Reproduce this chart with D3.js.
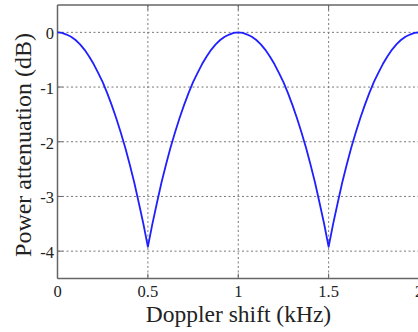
<!DOCTYPE html>
<html>
<head>
<meta charset="utf-8">
<script src="https://cdn.jsdelivr.net/npm/d3@7"></script>
<style>
  html, body { margin: 0; padding: 0; background: #fff; }
  svg { display: block; }
</style>
</head>
<body>
<svg id="chart" width="418" height="332"></svg>
<script>
// Doppler shift samples (kHz), every 0.025 kHz
const dopplerKHz = [
  0, 0.025, 0.05, 0.075, 0.1, 0.125, 0.15, 0.175, 0.2, 0.225,
  0.25, 0.275, 0.3, 0.325, 0.35, 0.375, 0.4, 0.425, 0.45, 0.475,
  0.5, 0.525, 0.55, 0.575, 0.6, 0.625, 0.65, 0.675, 0.7, 0.725,
  0.75, 0.775, 0.8, 0.825, 0.85, 0.875, 0.9, 0.925, 0.95, 0.975,
  1, 1.025, 1.05, 1.075, 1.1, 1.125, 1.15, 1.175, 1.2, 1.225,
  1.25, 1.275, 1.3, 1.325, 1.35, 1.375, 1.4, 1.425, 1.45, 1.475,
  1.5, 1.525, 1.55, 1.575, 1.6, 1.625, 1.65, 1.675, 1.7, 1.725,
  1.75, 1.775, 1.8, 1.825, 1.85, 1.875, 1.9, 1.925, 1.95, 1.975, 2];
// Power attenuation (dB)
const attenuationDB = [
  0, -0.01, -0.04, -0.08, -0.14, -0.22, -0.32, -0.44, -0.58, -0.74,
  -0.91, -1.11, -1.33, -1.57, -1.83, -2.11, -2.42, -2.75, -3.12, -3.50,
  -3.92, -3.50, -3.12, -2.75, -2.42, -2.11, -1.83, -1.57, -1.33, -1.11,
  -0.91, -0.74, -0.58, -0.44, -0.32, -0.22, -0.14, -0.08, -0.04, -0.01,
  0, -0.01, -0.04, -0.08, -0.14, -0.22, -0.32, -0.44, -0.58, -0.74,
  -0.91, -1.11, -1.33, -1.57, -1.83, -2.11, -2.42, -2.75, -3.12, -3.50,
  -3.92, -3.50, -3.12, -2.75, -2.42, -2.11, -1.83, -1.57, -1.33, -1.11,
  -0.91, -0.74, -0.58, -0.44, -0.32, -0.22, -0.14, -0.08, -0.04, -0.01, 0];
const xTicks = [0, 0.5, 1, 1.5, 2];
const xTickLabels = ["0", "0.5", "1", "1.5", "2"];
const yTicks = [0, -1, -2, -3, -4];
const yTickLabels = ["0", "-1", "-2", "-3", "-4"];

const FONT = "'Liberation Serif', 'DejaVu Serif', 'Times New Roman', serif";
const svg = d3.select("#chart");
const plotLeft = 57.5, plotRight = 419, plotTop = 5, plotBottom = 278.5;

const x = d3.scaleLinear().domain([0, 2]).range([plotLeft, plotRight]);
const y = d3.scaleLinear().domain([-4.5, 0.5]).range([plotBottom, plotTop]);

const axisColor = "#666";
const g = svg.append("g");

// dotted grid
g.selectAll("line.vgrid").data(xTicks.slice(1, -1)).join("line")
  .attr("x1", d => x(d)).attr("x2", d => x(d))
  .attr("y1", plotTop).attr("y2", plotBottom)
  .attr("stroke", "#777").attr("stroke-width", 1).attr("stroke-dasharray", "2,2.5");
g.selectAll("line.hgrid").data(yTicks).join("line")
  .attr("x1", plotLeft).attr("x2", plotRight)
  .attr("y1", d => y(d)).attr("y2", d => y(d))
  .attr("stroke", "#777").attr("stroke-width", 1).attr("stroke-dasharray", "2,2.5");

// frame
g.append("line").attr("x1", plotLeft).attr("x2", plotRight).attr("y1", plotTop).attr("y2", plotTop)
  .attr("stroke", axisColor).attr("stroke-width", 1.5);
g.append("line").attr("x1", plotLeft).attr("x2", plotRight).attr("y1", plotBottom).attr("y2", plotBottom)
  .attr("stroke", axisColor).attr("stroke-width", 1.5);
g.append("line").attr("x1", plotLeft).attr("x2", plotLeft).attr("y1", plotTop).attr("y2", plotBottom)
  .attr("stroke", axisColor).attr("stroke-width", 1.5);

// inward ticks
g.selectAll("line.xtb").data(xTicks).join("line")
  .attr("x1", d => x(d)).attr("x2", d => x(d))
  .attr("y1", plotBottom).attr("y2", plotBottom - 5)
  .attr("stroke", axisColor).attr("stroke-width", 1);
g.selectAll("line.xtt").data(xTicks).join("line")
  .attr("x1", d => x(d)).attr("x2", d => x(d))
  .attr("y1", plotTop).attr("y2", plotTop + 5)
  .attr("stroke", axisColor).attr("stroke-width", 1);
g.selectAll("line.yt").data(yTicks).join("line")
  .attr("x1", plotLeft).attr("x2", plotLeft + 5)
  .attr("y1", d => y(d)).attr("y2", d => y(d))
  .attr("stroke", axisColor).attr("stroke-width", 1);

// tick labels
g.selectAll("text.xl").data(xTicks).join("text")
  .attr("x", d => x(d)).attr("y", 297)
  .attr("text-anchor", "middle").attr("font-size", 16.5)
  .attr("font-family", FONT).attr("fill", "#222")
  .text((d, i) => xTickLabels[i]);
g.selectAll("text.yl").data(yTicks).join("text")
  .attr("x", 54).attr("y", d => y(d) + 7)
  .attr("text-anchor", "end").attr("font-size", 16.5)
  .attr("font-family", FONT).attr("fill", "#222")
  .text((d, i) => yTickLabels[i]);

// axis titles
svg.append("text").attr("x", 238.5).attr("y", 321.5)
  .attr("text-anchor", "middle").attr("font-size", 23.5)
  .attr("font-family", FONT).attr("fill", "#222")
  .text("Doppler shift (kHz)");
svg.append("text")
  .attr("transform", "translate(31,145) rotate(-90)")
  .attr("text-anchor", "middle").attr("font-size", 24)
  .attr("font-family", FONT).attr("fill", "#222")
  .text("Power attenuation (dB)");

// attenuation curve
const pts = dopplerKHz.map((d, i) => [d, attenuationDB[i]]);
const line = d3.line().x(d => x(d[0])).y(d => y(d[1]));
g.append("path").datum(pts)
  .attr("d", line)
  .attr("fill", "none").attr("stroke", "#2020ff").attr("stroke-width", 1.8)
  .attr("stroke-linejoin", "round");
</script>
</body>
</html>
